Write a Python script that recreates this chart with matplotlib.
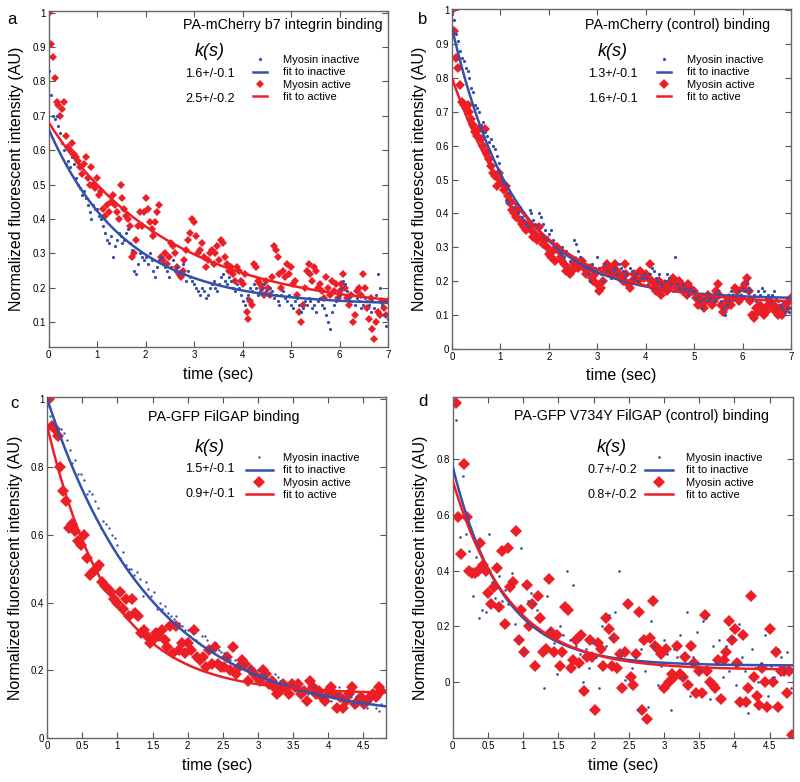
import numpy as np
import matplotlib.pyplot as plt
from matplotlib.ticker import FuncFormatter

plt.rcParams['font.family'] = ['Liberation Sans', 'DejaVu Sans']

BLUE = "#3450a8"
RED = "#ec1f26"
W, H = 800, 782

# frame step (sec) used for panels a and b
DT_AB = 0.04
DT_C_BLUE = 0.04

# --- panel a: PA-mCherry b7 integrin ---
A_INACTIVE = [
    0.83, 0.76, 0.70, 0.69, 0.70, 0.67, 0.65, 0.62, 0.60, 0.56, 0.57, 0.55, 0.58, 0.56, 0.52, 0.50, 0.49, 0.47, 0.48, 0.46, 0.44, 0.42, 0.40, 0.44, 0.43,
    0.43, 0.41, 0.40, 0.38, 0.36, 0.34, 0.33, 0.35, 0.29, 0.32, 0.34, 0.36, 0.35, 0.33, 0.34, 0.36, 0.37, 0.33, 0.31, 0.25, 0.24, 0.27, 0.30, 0.29, 0.28,
    0.29, 0.27, 0.30, 0.28, 0.25, 0.23, 0.26, 0.28, 0.29, 0.27, 0.26, 0.25, 0.23, 0.26, 0.28, 0.25, 0.26, 0.24, 0.25, 0.27, 0.24, 0.22, 0.25, 0.23, 0.22,
    0.21, 0.20, 0.19, 0.18, 0.20, 0.19, 0.17, 0.18, 0.20, 0.21, 0.22, 0.20, 0.19, 0.21, 0.23, 0.24, 0.22, 0.21, 0.23, 0.22, 0.20, 0.19, 0.21, 0.20, 0.18,
    0.16, 0.15, 0.17, 0.18, 0.20, 0.19, 0.21, 0.20, 0.18, 0.19, 0.20, 0.21, 0.19, 0.18, 0.20, 0.19, 0.17, 0.18, 0.16, 0.15, 0.18, 0.19, 0.17, 0.16, 0.18,
    0.15, 0.14, 0.16, 0.17, 0.15, 0.13, 0.14, 0.16, 0.15, 0.17, 0.16, 0.14, 0.15, 0.13, 0.16, 0.17, 0.15, 0.14, 0.12, 0.10, 0.08, 0.13, 0.15, 0.16, 0.17,
    0.18, 0.20, 0.22, 0.21, 0.19, 0.17, 0.16, 0.18, 0.15, 0.17, 0.16, 0.14, 0.15, 0.17, 0.16, 0.15, 0.13, 0.16, 0.14, 0.18, 0.24, 0.20, 0.15, 0.12, 0.09, 0.11,
]
A_ACTIVE = [
    1.00, 0.91, 0.87, 0.81, 0.74, 0.73, 0.70, 0.72, 0.74, 0.64, 0.61, 0.60, 0.62, 0.59, 0.58, 0.57, 0.55, 0.53, 0.56, 0.58, 0.52, 0.50, 0.55, 0.50, 0.49,
    0.52, 0.47, 0.48, 0.43, 0.41, 0.44, 0.42, 0.45, 0.47, 0.44, 0.42, 0.40, 0.50, 0.46, 0.43, 0.41, 0.40, 0.38, 0.29, 0.30, 0.34, 0.38, 0.42, 0.38, 0.42,
    0.46, 0.43, 0.39, 0.37, 0.35, 0.39, 0.42, 0.44, 0.29, 0.28, 0.30, 0.27, 0.29, 0.33, 0.32, 0.30, 0.26, 0.24, 0.23, 0.25, 0.28, 0.31, 0.34, 0.36, 0.40,
    0.39, 0.35, 0.30, 0.31, 0.33, 0.29, 0.26, 0.28, 0.30, 0.31, 0.27, 0.30, 0.32, 0.28, 0.34, 0.33, 0.29, 0.27, 0.25, 0.26, 0.24, 0.22, 0.26, 0.25, 0.22,
    0.21, 0.24, 0.13, 0.11, 0.16, 0.15, 0.27, 0.26, 0.22, 0.21, 0.20, 0.18, 0.22, 0.20, 0.18, 0.23, 0.32, 0.31, 0.29, 0.24, 0.20, 0.25, 0.23, 0.27, 0.24,
    0.26, 0.21, 0.22, 0.18, 0.13, 0.10, 0.15, 0.20, 0.25, 0.27, 0.24, 0.22, 0.26, 0.25, 0.20, 0.21, 0.19, 0.17, 0.23, 0.20, 0.18, 0.22, 0.19, 0.21, 0.17,
    0.19, 0.21, 0.24, 0.20, 0.17, 0.15, 0.18, 0.10, 0.12, 0.19, 0.20, 0.18, 0.24, 0.20, 0.14, 0.11, 0.17, 0.08, 0.05, 0.10, 0.13, 0.12, 0.16, 0.14, 0.12, 0.16,
]

# --- panel b: PA-mCherry control ---
B_INACTIVE = [
    0.99, 0.97, 0.93, 0.91, 0.88, 0.86, 0.85, 0.83, 0.82, 0.80, 0.77, 0.76, 0.72, 0.71, 0.70, 0.66, 0.67, 0.64, 0.63, 0.61, 0.62, 0.60, 0.59, 0.57, 0.55,
    0.52, 0.50, 0.49, 0.44, 0.43, 0.46, 0.44, 0.42, 0.43, 0.40, 0.42, 0.39, 0.38, 0.37, 0.36, 0.41, 0.40, 0.38, 0.37, 0.36, 0.40, 0.39, 0.37, 0.35, 0.33,
    0.34, 0.35, 0.32, 0.31, 0.30, 0.29, 0.28, 0.30, 0.27, 0.29, 0.28, 0.26, 0.27, 0.32, 0.31, 0.29, 0.27, 0.26, 0.25, 0.24, 0.22, 0.20, 0.25, 0.23, 0.24,
    0.27, 0.24, 0.22, 0.20, 0.25, 0.23, 0.22, 0.21, 0.23, 0.24, 0.22, 0.25, 0.24, 0.23, 0.21, 0.22, 0.20, 0.24, 0.23, 0.21, 0.22, 0.20, 0.19, 0.21, 0.22,
    0.21, 0.19, 0.22, 0.24, 0.23, 0.21, 0.20, 0.22, 0.19, 0.18, 0.20, 0.22, 0.21, 0.19, 0.17, 0.27, 0.19, 0.18, 0.17, 0.19, 0.18, 0.17, 0.16, 0.18, 0.17,
    0.17, 0.15, 0.16, 0.14, 0.12, 0.15, 0.16, 0.14, 0.15, 0.16, 0.14, 0.15, 0.17, 0.16, 0.14, 0.12, 0.10, 0.13, 0.14, 0.17, 0.16, 0.15, 0.16, 0.17, 0.16,
    0.18, 0.17, 0.20, 0.18, 0.17, 0.15, 0.16, 0.14, 0.17, 0.16, 0.18, 0.17, 0.15, 0.16, 0.14, 0.16, 0.17, 0.15, 0.14, 0.13, 0.12, 0.14, 0.11, 0.12, 0.11, 0.12,
]
B_ACTIVE = [
    1.00, 0.94, 0.86, 0.83, 0.78, 0.73, 0.72, 0.71, 0.72, 0.70, 0.68, 0.66, 0.64, 0.63, 0.65, 0.62, 0.60, 0.65, 0.58, 0.56, 0.54, 0.52, 0.51, 0.48, 0.52,
    0.50, 0.49, 0.47, 0.48, 0.45, 0.43, 0.41, 0.40, 0.39, 0.41, 0.38, 0.37, 0.36, 0.35, 0.37, 0.36, 0.35, 0.33, 0.34, 0.32, 0.36, 0.33, 0.31, 0.32, 0.30,
    0.28, 0.27, 0.29, 0.26, 0.30, 0.29, 0.27, 0.26, 0.25, 0.23, 0.24, 0.22, 0.23, 0.25, 0.26, 0.24, 0.25, 0.26, 0.24, 0.22, 0.23, 0.24, 0.21, 0.20, 0.22,
    0.19, 0.17, 0.18, 0.20, 0.24, 0.25, 0.23, 0.24, 0.22, 0.25, 0.23, 0.22, 0.21, 0.20, 0.25, 0.22, 0.19, 0.18, 0.20, 0.22, 0.21, 0.20, 0.23, 0.22, 0.21,
    0.22, 0.21, 0.25, 0.20, 0.18, 0.17, 0.19, 0.20, 0.16, 0.18, 0.19, 0.17, 0.18, 0.20, 0.21, 0.19, 0.18, 0.20, 0.19, 0.17, 0.18, 0.16, 0.19, 0.18, 0.17,
    0.17, 0.15, 0.13, 0.15, 0.14, 0.12, 0.14, 0.16, 0.15, 0.13, 0.14, 0.17, 0.19, 0.16, 0.13, 0.11, 0.12, 0.14, 0.15, 0.13, 0.15, 0.18, 0.17, 0.14, 0.15,
    0.18, 0.19, 0.21, 0.17, 0.14, 0.10, 0.09, 0.12, 0.11, 0.13, 0.12, 0.10, 0.11, 0.13, 0.14, 0.12, 0.13, 0.11, 0.10, 0.12, 0.10, 0.11, 0.13, 0.12, 0.14, 0.15,
]

# --- panel c: PA-GFP FilGAP ---
C_INACTIVE = [
    0.98, 0.95, 0.93, 0.91, 0.90, 0.91, 0.90, 0.88, 0.85, 0.81, 0.82, 0.78, 0.78, 0.76, 0.72, 0.73, 0.72, 0.70, 0.68, 0.62, 0.64, 0.63, 0.62, 0.60, 0.59,
    0.57, 0.53, 0.55, 0.51, 0.50, 0.50, 0.48, 0.49, 0.47, 0.42, 0.46, 0.44, 0.42, 0.43, 0.38, 0.40, 0.38, 0.39, 0.37, 0.36, 0.35, 0.36, 0.34, 0.33, 0.32,
    0.32, 0.30, 0.31, 0.29, 0.28, 0.30, 0.30, 0.29, 0.27, 0.26, 0.28, 0.26, 0.255, 0.25, 0.24, 0.23, 0.22, 0.23, 0.22, 0.21, 0.22, 0.20, 0.21, 0.20, 0.19,
    0.20, 0.19, 0.19, 0.18, 0.17, 0.17, 0.19, 0.18, 0.17, 0.16, 0.16, 0.15, 0.16, 0.15, 0.14, 0.15, 0.14, 0.14, 0.13, 0.14, 0.15, 0.13, 0.14, 0.12, 0.13,
    0.13, 0.11, 0.12, 0.13, 0.15, 0.12, 0.11, 0.14, 0.12, 0.10, 0.12, 0.11, 0.10, 0.10, 0.09, 0.11, 0.10, 0.09, 0.08, 0.10,
]
C_ACTIVE = [
    1.00, 0.92, 0.91, 0.89, 0.80, 0.73, 0.70, 0.62, 0.63, 0.61, 0.58, 0.57, 0.60, 0.53, 0.48, 0.49, 0.50, 0.51, 0.46, 0.45,
    0.44, 0.43, 0.41, 0.40, 0.43, 0.38, 0.41, 0.36, 0.41, 0.37, 0.36, 0.31, 0.32, 0.30, 0.28, 0.29, 0.31, 0.30, 0.32, 0.29,
    0.27, 0.33, 0.25, 0.33, 0.26, 0.28, 0.25, 0.28, 0.26, 0.32, 0.24, 0.23, 0.24, 0.21, 0.26, 0.22, 0.27, 0.22, 0.21, 0.21,
    0.24, 0.20, 0.27, 0.19, 0.21, 0.23, 0.22, 0.17, 0.20, 0.19, 0.18, 0.17, 0.20, 0.19, 0.16, 0.17, 0.15, 0.13, 0.14, 0.16,
    0.15, 0.13, 0.16, 0.15, 0.16, 0.13, 0.14, 0.11, 0.17, 0.15, 0.13, 0.14, 0.12, 0.11, 0.14, 0.15, 0.13, 0.09, 0.12, 0.09,
    0.11, 0.13, 0.15, 0.10, 0.11, 0.12, 0.10, 0.11, 0.12, 0.13, 0.12, 0.15, 0.14,
]
C_ACTIVE_SPAN = (0.02, 4.76)

# --- panel d: PA-GFP V734Y FilGAP control ---
D_INACTIVE = [
    0.94, 0.52, 0.74, 0.53, 0.47, 0.31, 0.45, 0.23, 0.26, 0.25, 0.53, 0.36, 0.30, 0.38, 0.29, 0.33, 0.28, 0.39, 0.21, 0.15,
    0.48, 0.11, 0.29, 0.32, 0.28, 0.26, 0.18, -0.02, 0.31, 0.19, 0.14, 0.03, 0.20, 0.17, 0.40, 0.15, 0.35, 0.13, 0.10, 0.00,
    0.12, 0.05, 0.14, 0.09, -0.02, 0.20, 0.13, 0.24, 0.16, 0.25, 0.40, 0.11, 0.01, 0.08, 0.05, 0.09, -0.10, 0.12, 0.04, -0.09,
    0.22, 0.13, -0.01, 0.06, 0.15, 0.10, -0.10, 0.12, 0.09, 0.17, 0.02, 0.25, -0.05, 0.09, 0.18, 0.04, 0.22, 0.23, -0.06, 0.13,
    0.07, 0.15, 0.02, 0.13, 0.04, 0.16, -0.01, 0.21, 0.09, 0.04, -0.11, 0.12, 0.05, 0.00, 0.07, 0.17, -0.05, 0.06, 0.02, 0.12,
    0.09, 0.04, 0.11, -0.02,
]
D_INACTIVE_SPAN = (0.05, 4.80)
D_ACTIVE = [
    1.00, 0.59, 0.46, 0.78, 0.59, 0.40, 0.39, 0.39, 0.40, 0.50, 0.42, 0.40, 0.32, 0.28, 0.34, 0.41, 0.27, 0.47, 0.21, 0.48,
    0.34, 0.36, 0.54, 0.15, 0.26, 0.11, 0.35, 0.20, 0.28, 0.06, 0.31, 0.23, 0.11, 0.12, 0.37, 0.18, 0.11, 0.17, 0.06, 0.11,
    0.27, 0.26, 0.05, 0.08, 0.15, 0.07, 0.17, -0.03, 0.09, 0.15, 0.09, -0.10, 0.14, 0.12, 0.06, 0.23, 0.19, 0.06, 0.16, 0.05,
    0.10, -0.02, 0.11, 0.28, 0.02, -0.01, 0.10, 0.25, -0.10, 0.15, -0.13, 0.16, 0.29, 0.13, 0.12, 0.10, -0.02, 0.12, 0.00, 0.03,
    0.02, 0.13, 0.03, 0.02, 0.09, -0.01, 0.13, 0.07, -0.04, 0.04, -0.04, 0.24, 0.04, 0.00, -0.01, -0.02, 0.08, -0.06, 0.08, 0.11,
    0.22, 0.15, 0.19, 0.07, -0.07, 0.17, -0.07, -0.02, 0.31, 0.02, -0.05, -0.08, 0.05, 0.00, -0.09, 0.19, 0.00, 0.11, -0.09, 0.04,
    0.04, -0.04, 0.04, -0.19,
]
D_ACTIVE_SPAN = (0.04, 4.82)

# exponential fits: (amplitude, k in sec, plateau)
FIT_A = [(0.51, 1.6, 0.150), (0.548, 2.5, 0.132)]
FIT_B = [(0.80, 1.3, 0.147), (0.668, 1.6, 0.132)]
FIT_C = [(0.944, 1.5, 0.056), (0.789, 0.9, 0.131)]
FIT_D = [(0.71, 0.7, 0.060), (0.675, 0.8, 0.045)]

K_A = ["1.6+/-0.1", "2.5+/-0.2"]
K_B = ["1.3+/-0.1", "1.6+/-0.1"]
K_C = ["1.5+/-0.1", "0.9+/-0.1"]
K_D = ["0.7+/-0.2", "0.8+/-0.2"]

TITLES = ["PA-mCherry b7 integrin binding", "PA-mCherry (control) binding",
          "PA-GFP FilGAP binding", "PA-GFP V734Y FilGAP (control) binding"]
LEGEND_LABELS = ["Myosin inactive", "fit to inactive", "Myosin active", "fit to active"]


def fig_xy(x, y):
    return x / W, 1 - y / H


def draw_panel(fig, rect, t_in, y_in, t_act, y_act, fits, xlim, ylim, xticks, yticks,
               red_ms, blue_ms, handle, leg_xy, title, title_xy, letter, letter_xy,
               k_vals, k_xy):
    ax = fig.add_axes(rect)
    p1, = ax.plot(t_in, y_in, "o", color=BLUE, ms=blue_ms, mew=0, zorder=3)
    p3, = ax.plot(t_act, y_act, "D", color=RED, ms=red_ms, mew=0, zorder=2)
    tt = np.linspace(0, xlim[1], 300)
    a, k, c = fits[0]
    p2, = ax.plot(tt, c + a * np.exp(-tt / k), color=BLUE, lw=1.8, zorder=4)
    a, k, c = fits[1]
    p4, = ax.plot(tt, c + a * np.exp(-tt / k), color=RED, lw=1.8, zorder=4)
    ax.set_xlim(*xlim)
    ax.set_ylim(*ylim)
    ax.set_xticks(xticks)
    ax.set_yticks(yticks)
    fmt = FuncFormatter(lambda v, p: f"{v:g}")
    ax.xaxis.set_major_formatter(fmt)
    ax.yaxis.set_major_formatter(fmt)
    ax.tick_params(direction="in", top=True, right=True, length=4, width=0.8,
                   labelsize=7, color="#555555", pad=2)
    for s in ax.spines.values():
        s.set_color("#666666")
        s.set_linewidth(1.0)
    ax.set_xlabel("time (sec)", fontsize=11.5, labelpad=5)
    ax.set_ylabel("Normalized fluorescent intensity (AU)", fontsize=11.5, labelpad=6)
    hl, hp = handle
    fig.legend([p1, p2, p3, p4], LEGEND_LABELS, loc="upper left",
               bbox_to_anchor=fig_xy(*leg_xy), frameon=False, fontsize=8,
               handlelength=hl, handletextpad=hp, labelspacing=0.22,
               borderpad=0, borderaxespad=0, numpoints=1)
    fig.text(*fig_xy(*title_xy), title, fontsize=10.3, ha="center", va="center")
    fig.text(*fig_xy(*letter_xy), letter, fontsize=12, ha="center", va="center")
    kx, ky = k_xy
    fig.text(*fig_xy(kx, ky), "k(s)", fontsize=13, style="italic", ha="center", va="center")
    fig.text(*fig_xy(kx, ky + 22), k_vals[0], fontsize=9, ha="center", va="center")
    fig.text(*fig_xy(kx, ky + 47), k_vals[1], fontsize=9, ha="center", va="center")
    return ax


def main():
    fig = plt.figure(figsize=(8, 7.82), dpi=100)

    t_a_in = np.arange(len(A_INACTIVE)) * DT_AB
    t_a_act = np.arange(len(A_ACTIVE)) * DT_AB
    draw_panel(fig, [0.061, 0.556, 0.424, 0.430], t_a_in, A_INACTIVE, t_a_act, A_ACTIVE,
               FIT_A, (0, 7), (0.027, 1.005), range(8), np.arange(0.1, 1.01, 0.1),
               4.2, 2.3, (1.25, 1.45), (253, 55), TITLES[0], (283, 25), "a", (12, 20), K_A, (210, 52))

    t_b_in = np.arange(len(B_INACTIVE)) * DT_AB
    t_b_act = np.arange(len(B_ACTIVE)) * DT_AB
    draw_panel(fig, [0.565, 0.554, 0.424, 0.435], t_b_in, B_INACTIVE, t_b_act, B_ACTIVE,
               FIT_B, (0, 7), (0, 1.005), range(8), np.arange(0, 1.01, 0.1),
               4.6, 2.3, (1.25, 1.45), (657, 55), TITLES[1], (678, 25), "b", (423, 20), K_B, (613, 52))

    t_c_in = np.arange(len(C_INACTIVE)) * DT_C_BLUE
    t_c_act = np.linspace(*C_ACTIVE_SPAN, len(C_ACTIVE))
    draw_panel(fig, [0.059, 0.056, 0.424, 0.436], t_c_in, C_INACTIVE, t_c_act, C_ACTIVE,
               FIT_C, (0, 4.83), (0, 1.005), np.arange(0, 4.6, 0.5), np.arange(0, 1.01, 0.2),
               6.5, 1.7, (2.4, 0.9), (246, 453), TITLES[2], (224, 417), "c", (14, 403), K_C, (210, 447))

    t_d_in = np.linspace(*D_INACTIVE_SPAN, len(D_INACTIVE))
    t_d_act = np.linspace(*D_ACTIVE_SPAN, len(D_ACTIVE))
    draw_panel(fig, [0.566, 0.056, 0.425, 0.436], t_d_in, D_INACTIVE, t_d_act, D_ACTIVE,
               FIT_D, (0, 4.83), (-0.2, 1.02), np.arange(0, 4.6, 0.5), np.arange(0, 0.81, 0.2),
               6.5, 1.9, (2.5, 1.15), (645, 453), TITLES[3], (642, 416), "d", (423, 402), K_D, (612, 448))

    plt.savefig("out.png", dpi=100)


if __name__ == '__main__':
    main()
